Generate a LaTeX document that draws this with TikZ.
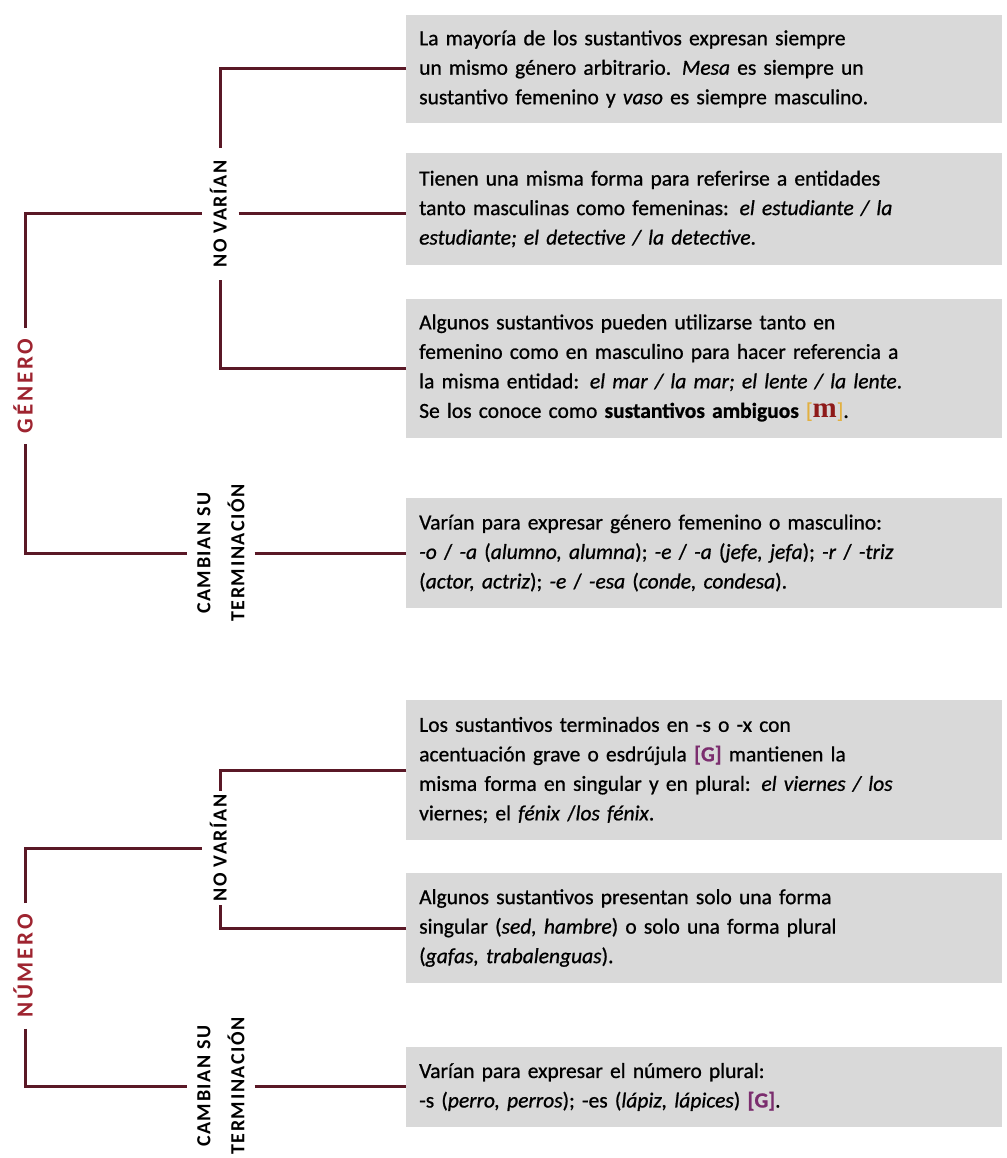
\documentclass[tikz,border=0pt]{standalone}
\usepackage{fontspec}
\setmainfont{Carlito}
\newfontfamily\serifm{Liberation Serif}
\definecolor{lnc}{HTML}{5A1826}
\definecolor{redl}{HTML}{9E2430}
\definecolor{boxg}{HTML}{D9D9D9}
\definecolor{purg}{HTML}{7B2D6E}
\definecolor{ylw}{HTML}{E2B040}
\definecolor{mred}{HTML}{8E1A1A}
\newcommand{\markG}{{\color{purg}\bfseries [G]}}
\newcommand{\markm}{{\color{ylw}[}{\serifm\bfseries\color{mred}\fontsize{29}{29}\selectfont m}{\color{ylw}]}}
\begin{document}
\begin{tikzpicture}[x=1pt,y=-1pt,
  conn/.style={draw=lnc, line width=3pt},
  txtbox/.style={fill=boxg, minimum width=596pt, text width=570pt, inner xsep=13pt, inner ysep=0pt,
    align=left, anchor=west, font=\fontsize{21.5}{29.5}\selectfont\addfontfeature{FakeBold=0.8}},
  sublbl/.style={rotate=90, inner sep=0pt, outer xsep=12pt, outer ysep=12pt, text height=13pt, text depth=0pt,
    font=\fontsize{20}{34}\selectfont\bfseries\addfontfeature{LetterSpace=8}},
  twolbl/.style={rotate=90, inner sep=0pt, outer xsep=6pt, outer ysep=10pt, align=center,
    font=\fontsize{20}{34}\selectfont\bfseries\addfontfeature{LetterSpace=8}},
  mainlbl/.style={rotate=90, inner sep=0pt, outer xsep=11pt, outer ysep=0pt, text height=15pt, text depth=0pt, text=redl,
    font=\fontsize{23}{23}\selectfont\bfseries\addfontfeature{LetterSpace=12}}]
\useasboundingbox (0,0) rectangle (1006,1158);

% text boxes
\node[txtbox, minimum height=108pt] (b1) at (406,69) {La mayoría de los sustantivos expresan siempre\\un mismo género arbitrario. \textit{Mesa} es siempre un\\sustantivo femenino y \textit{vaso} es siempre masculino.};
\node[txtbox, minimum height=112pt] (b2) at (406,209) {Tienen una misma forma para referirse a entidades\\tanto masculinas como femeninas: \textit{el estudiante / la}\\\textit{estudiante; el detective / la detective}.};
\node[txtbox, minimum height=139pt] (b3) at (406,368) {Algunos sustantivos pueden utilizarse tanto en\\femenino como en masculino para hacer referencia a\\la misma entidad: \textit{el mar / la mar; el lente / la lente}.\\Se los conoce como \textbf{sustantivos ambiguos} \markm.};
\node[txtbox, minimum height=110pt] (b4) at (406,553) {Varían para expresar género femenino o masculino:\\\textit{-o} / \textit{-a} (\textit{alumno, alumna}); \textit{-e} / \textit{-a} (\textit{jefe, jefa}); \textit{-r} / \textit{-triz}\\(\textit{actor, actriz}); \textit{-e} / \textit{-esa} (\textit{conde, condesa}).};
\node[txtbox, minimum height=140pt] (b5) at (406,770) {Los sustantivos terminados en -s o -x con\\acentuación grave o esdrújula \markG{} mantienen la\\misma forma en singular y en plural: \textit{el viernes / los}\\viernes; el \textit{fénix} /\textit{los fénix}.};
\node[txtbox, minimum height=110pt] (b6) at (406,928) {Algunos sustantivos presentan solo una forma\\singular (\textit{sed, hambre}) o solo una forma plural\\(\textit{gafas, trabalenguas}).};
\node[txtbox, minimum height=80pt] (b7) at (406,1087) {Varían para expresar el número plural:\\-s (\textit{perro, perros}); -es (\textit{lápiz, lápices}) \markG.};

% labels
\node[mainlbl] (gen) at (25,386) {GÉNERO};
\node[mainlbl] (num) at (25,966) {NÚMERO};
\node[sublbl] (nv1) at (220,214) {NO VARÍAN};
\node[sublbl, outer xsep=3pt] (nv2) at (220,848) {NO VARÍAN};
\node[twolbl] (cs1) at (221,553) {CAMBIAN SU\\TERMINACIÓN};
\node[twolbl] (cs2) at (221,1086) {CAMBIAN SU\\TERMINACIÓN};

% Género
\draw[conn] (gen.east) -- (gen.east |- nv1) -- (nv1.north);
\draw[conn] (gen.west) -- (gen.west |- cs1) -- (cs1.north);
\draw[conn] (b1.west) -- (b1.west -| nv1) -- (nv1.east);
\draw[conn] (nv1.south) -- (nv1.south -| b2.west);
\draw[conn] (b3.west) -- (b3.west -| nv1) -- (nv1.west);
\draw[conn] (cs1.south) -- (cs1.south -| b4.west);

% Número
\draw[conn] (num.east) -- (num.east |- nv2) -- (nv2.north);
\draw[conn] (num.west) -- (num.west |- cs2) -- (cs2.north);
\draw[conn] (b5.west) -- (b5.west -| nv2) -- (nv2.east);
\draw[conn] (b6.west) -- (b6.west -| nv2) -- (nv2.west);
\draw[conn] (cs2.south) -- (cs2.south -| b7.west);
\end{tikzpicture}
\end{document}
